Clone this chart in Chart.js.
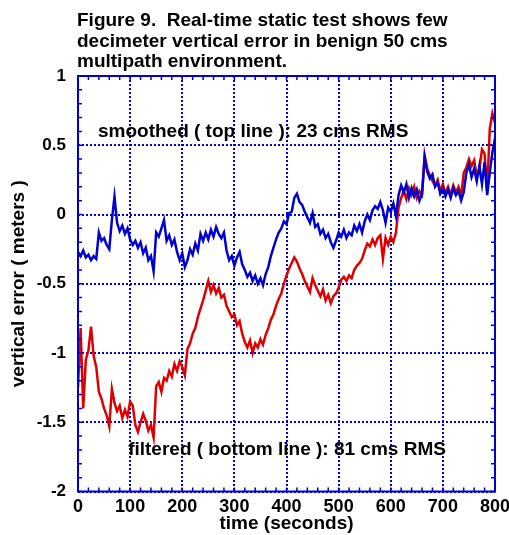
<!DOCTYPE html>
<html>
<head>
<meta charset="utf-8">
<script src="https://cdn.jsdelivr.net/npm/chart.js@4.4.0/dist/chart.umd.min.js"></script>
<style>
  html, body { margin: 0; padding: 0; background: #fff; }
  #wrap { position: relative; width: 509px; height: 535px; }
</style>
</head>
<body>
<div id="wrap"><canvas id="c" width="509" height="535"></canvas></div>
<script>
// ---- DATA ----
const titleLines = [
  "Figure 9.  Real-time static test shows few",
  "decimeter vertical error in benign 50 cms",
  "multipath environment."
];
const xTitle = "time (seconds)";
const yTitle = "vertical error ( meters )";
const smoothedLabel = "smoothed ( top line ): 23 cms RMS";
const filteredLabel = "filtered ( bottom line ): 81 cms RMS";
const xTickValues = [0, 100, 200, 300, 400, 500, 600, 700, 800];
const yTickLabels = ["-2", "-1.5", "-1", "-0.5", "0", "0.5", "1"];

// time in seconds, every 5 s
const seconds = [
  0,5,10,15,20,25,30,35,40,45,50,55,60,65,70,75,80,85,90,95,
  100,105,110,115,120,125,130,135,140,145,150,155,160,165,170,175,180,185,190,195,
  200,205,210,215,220,225,230,235,240,245,250,255,260,265,270,275,280,285,290,295,
  300,305,310,315,320,325,330,335,340,345,350,355,360,365,370,375,380,385,390,395,
  400,405,410,415,420,425,430,435,440,445,450,455,460,465,470,475,480,485,490,495,
  500,505,510,515,520,525,530,535,540,545,550,555,560,565,570,575,580,585,590,595,
  600,605,610,615,620,625,630,635,640,645,650,655,660,665,670,675,680,685,690,695,
  700,705,710,715,720,725,730,735,740,745,750,755,760,765,770,775,780,785,790,795,
  800
];

// smoothed (top, blue) vertical error in meters
const smoothed = [
  -0.27,-0.30,-0.26,-0.31,-0.29,-0.33,-0.30,-0.32,-0.13,-0.19,-0.17,-0.22,-0.25,-0.04,0.13,-0.06,-0.12,-0.08,-0.14,-0.10,
  -0.18,-0.22,-0.19,-0.24,-0.20,-0.28,-0.24,-0.33,-0.30,-0.41,-0.13,-0.16,-0.10,-0.04,-0.19,-0.15,-0.22,-0.18,-0.27,-0.33,
  -0.28,-0.38,-0.33,-0.25,-0.29,-0.21,-0.26,-0.14,-0.19,-0.13,-0.18,-0.11,-0.16,-0.09,-0.14,-0.17,-0.13,-0.26,-0.33,-0.30,
  -0.37,-0.31,-0.27,-0.36,-0.40,-0.45,-0.42,-0.48,-0.44,-0.50,-0.46,-0.51,-0.43,-0.38,-0.30,-0.24,-0.18,-0.13,-0.10,-0.05,
  -0.07,0.01,0.02,0.12,0.15,0.09,0.07,0.02,-0.02,-0.06,0.01,-0.09,-0.07,-0.14,-0.11,-0.17,-0.14,-0.20,-0.24,-0.19,
  -0.13,-0.16,-0.11,-0.17,-0.13,-0.15,-0.08,-0.12,-0.07,-0.13,-0.05,0.00,-0.04,0.03,0.06,0.04,0.09,0.03,-0.06,0.05,
  0.02,0.08,-0.01,0.14,0.21,0.16,0.22,0.12,0.19,0.13,0.18,0.10,0.15,0.41,0.31,0.26,0.29,0.20,0.23,0.15,
  0.19,0.13,0.18,0.12,0.19,0.14,0.17,0.10,0.16,0.30,0.36,0.27,0.33,0.24,0.35,0.22,0.38,0.14,0.30,0.45,
  0.55
];

// filtered (bottom, red) vertical error in meters
const filtered = [
  -1.25,-0.82,-1.40,-1.05,-0.98,-0.81,-1.02,-1.10,-1.28,-1.33,-1.40,-1.45,-1.53,-1.26,-1.36,-1.42,-1.38,-1.47,-1.41,-1.46,
  -1.35,-1.38,-1.52,-1.57,-1.50,-1.44,-1.49,-1.56,-1.52,-1.61,-1.24,-1.21,-1.28,-1.18,-1.20,-1.13,-1.17,-1.08,-1.13,-1.06,
  -1.10,-1.16,-0.97,-0.93,-0.86,-0.82,-0.74,-0.68,-0.62,-0.55,-0.48,-0.56,-0.51,-0.57,-0.53,-0.60,-0.58,-0.66,-0.70,-0.74,
  -0.72,-0.80,-0.77,-0.86,-0.92,-0.96,-0.91,-1.00,-0.93,-0.96,-0.90,-0.94,-0.87,-0.82,-0.76,-0.72,-0.66,-0.61,-0.57,-0.50,
  -0.44,-0.39,-0.35,-0.31,-0.34,-0.39,-0.43,-0.48,-0.52,-0.56,-0.46,-0.51,-0.55,-0.59,-0.54,-0.62,-0.58,-0.64,-0.59,-0.57,
  -0.53,-0.47,-0.45,-0.48,-0.44,-0.46,-0.40,-0.37,-0.35,-0.32,-0.26,-0.21,-0.23,-0.18,-0.22,-0.17,-0.15,-0.32,-0.17,-0.22,
  -0.16,-0.20,-0.13,0.05,0.12,0.17,0.11,0.19,0.14,0.20,0.12,0.17,0.14,0.43,0.33,0.28,0.24,0.21,0.25,0.17,
  0.22,0.15,0.20,0.14,0.21,0.16,0.20,0.13,0.30,0.34,0.40,0.35,0.39,0.28,0.32,0.47,0.44,0.17,0.62,0.73,
  0.66
];

// ---- CHART ----
const BLUE = '#0000d0';
const RED = '#dd0000';
const FONT = '"Liberation Sans", Arial, Helvetica, sans-serif';

function pts(vals) { return seconds.map((t, i) => ({ x: t, y: vals[i] })); }

const decorPlugin = {
  id: 'decor',
  afterDraw(chart) {
    const ctx = chart.ctx;
    const a = chart.chartArea;
    const xs = chart.scales.x, ys = chart.scales.y;
    ctx.save();
    // minor ticks
    ctx.strokeStyle = BLUE;
    ctx.lineWidth = 1.5;
    ctx.beginPath();
    for (let v = 0; v <= 800; v += 20) {
      const px = xs.getPixelForValue(v);
      ctx.moveTo(px, a.bottom); ctx.lineTo(px, a.bottom - 4);
      ctx.moveTo(px, a.top); ctx.lineTo(px, a.top + 4);
    }
    for (let k = -20; k <= 10; k++) {
      const py = ys.getPixelForValue(k / 10);
      ctx.moveTo(a.left, py); ctx.lineTo(a.left + 4, py);
      ctx.moveTo(a.right, py); ctx.lineTo(a.right - 4, py);
    }
    ctx.stroke();
    // frame
    ctx.lineWidth = 2;
    ctx.strokeRect(a.left, a.top, a.right - a.left, a.bottom - a.top);
    // title
    ctx.fillStyle = '#000';
    ctx.font = 'bold 19px ' + FONT;
    ctx.textAlign = 'left';
    ctx.textBaseline = 'alphabetic';
    const baselines = [26, 46.5, 67];
    titleLines.forEach((s, i) => ctx.fillText(s, 77, baselines[i]));
    // annotations
    ctx.textAlign = 'center';
    ctx.textBaseline = 'middle';
    ctx.fillText(smoothedLabel, xs.getPixelForValue(336), ys.getPixelForValue(0.60));
    ctx.fillText(filteredLabel, xs.getPixelForValue(401), ys.getPixelForValue(-1.70));
    ctx.restore();
  }
};

new Chart(document.getElementById('c'), {
  type: 'line',
  data: {
    datasets: [
      { label: 'filtered', data: pts(filtered), borderColor: RED, borderWidth: 2.5, pointRadius: 0, tension: 0, order: 2 },
      { label: 'smoothed', data: pts(smoothed), borderColor: BLUE, borderWidth: 2.5, pointRadius: 0, tension: 0, order: 1 }
    ]
  },
  options: {
    responsive: false,
    animation: false,
    devicePixelRatio: 1,
    layout: { padding: { left: 0, right: 14, top: 76, bottom: 0 } },
    plugins: { legend: { display: false }, tooltip: { enabled: false }, title: { display: false } },
    scales: {
      x: {
        type: 'linear', min: 0, max: 800,
        afterFit(s) { s.height = 43.5; s.paddingRight = 0; s.paddingLeft = 0; },
        afterBuildTicks(s) { s.ticks = xTickValues.map(v => ({ value: v })); },
        ticks: { color: '#000', font: { family: FONT, size: 18, weight: 'bold' }, padding: 5, maxRotation: 0, autoSkip: false },
        grid: { color: BLUE, lineWidth: 2, drawTicks: false },
        border: { display: false, dash: [2, 2] },
        title: { display: true, text: xTitle, color: '#000', font: { family: FONT, size: 19, weight: 'bold' }, padding: { top: 0, bottom: 0 } }
      },
      y: {
        type: 'linear', min: -2, max: 1,
        afterFit(s) { s.width = 78; s.paddingTop = 0; s.paddingBottom = 0; },
        afterBuildTicks(s) { s.ticks = yTickLabels.map(l => ({ value: parseFloat(l) })); },
        ticks: {
          color: '#000', font: { family: FONT, size: 17, weight: 'bold' }, padding: 12, autoSkip: false,
          callback(v) { const i = yTickLabels.findIndex(l => parseFloat(l) === v); return i >= 0 ? yTickLabels[i] : ''; }
        },
        grid: { color: BLUE, lineWidth: 2, drawTicks: false },
        border: { display: false, dash: [2, 2] },
        title: { display: true, text: yTitle, color: '#000', font: { family: FONT, size: 19, weight: 'bold' }, padding: { top: 7, bottom: 0 } }
      }
    }
  },
  plugins: [decorPlugin]
});
</script>
</body>
</html>
